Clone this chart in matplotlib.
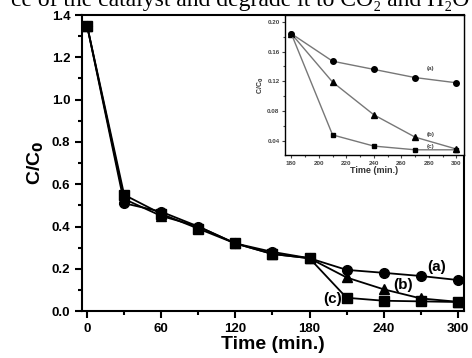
import matplotlib.pyplot as plt
from matplotlib.ticker import MultipleLocator

plt.rcParams["font.family"] = ["Liberation Sans", "DejaVu Sans"]
plt.rcParams["font.weight"] = "bold"

# main plot data
time = [0, 30, 60, 90, 120, 150, 180, 210, 240, 270, 300]
curve_a = [1.35, 0.51, 0.47, 0.40, 0.32, 0.28, 0.25, 0.195, 0.181, 0.166, 0.147]
curve_b = [1.35, 0.53, 0.45, 0.40, 0.32, 0.27, 0.25, 0.159, 0.103, 0.060, 0.044]
curve_c = [1.35, 0.55, 0.46, 0.39, 0.32, 0.27, 0.25, 0.063, 0.049, 0.046, 0.043]

# inset data
inset_time = [180, 210, 240, 270, 300]
inset_a = [0.184, 0.147, 0.136, 0.125, 0.118]
inset_b = [0.184, 0.119, 0.075, 0.045, 0.029]
inset_c = [0.184, 0.048, 0.033, 0.028, 0.028]

fig = plt.figure(figsize=(4.72, 3.58), dpi=100)
ax = fig.add_axes([0.174, 0.131, 0.809, 0.827])

ax.plot(time, curve_a, "-o", color="black", lw=1.3, ms=7)
ax.plot(time, curve_b, "-^", color="black", lw=1.3, ms=7)
ax.plot(time, curve_c, "-s", color="black", lw=1.3, ms=6.5)

ax.set_xlim(-4, 305)
ax.set_ylim(0, 1.4)
ax.xaxis.set_major_locator(MultipleLocator(60))
ax.xaxis.set_minor_locator(MultipleLocator(30))
ax.yaxis.set_major_locator(MultipleLocator(0.2))
ax.yaxis.set_minor_locator(MultipleLocator(0.1))
ax.yaxis.set_major_formatter(plt.FormatStrFormatter("%.1f"))
ax.tick_params(which="both", direction="out", width=1.5, labelsize=9.5)
ax.tick_params(which="major", length=5)
ax.tick_params(which="minor", length=3)
for s in ax.spines.values():
    s.set_linewidth(1.5)
ax.set_xlabel("Time (min.)", fontsize=14, fontweight="bold", labelpad=1)
ax.set_ylabel("C/C$_\\mathbf{0}$", fontsize=14, fontweight="bold", labelpad=4)

ax.text(283, 0.208, "(a)", fontsize=11, fontweight="bold", ha="center", va="center")
ax.text(256, 0.123, "(b)", fontsize=11, fontweight="bold", ha="center", va="center")
ax.text(199, 0.057, "(c)", fontsize=11, fontweight="bold", ha="center", va="center")

# inset
ins = fig.add_axes([0.604, 0.567, 0.379, 0.391])
ins.plot(inset_time, inset_a, "-o", color="#777777", lw=1, ms=4, mfc="black", mec="black")
ins.plot(inset_time, inset_b, "-^", color="#777777", lw=1, ms=4, mfc="black", mec="black")
ins.plot(inset_time, inset_c, "-s", color="#777777", lw=1, ms=3.5, mfc="black", mec="black")
ins.set_xlim(175.5, 305.5)
ins.set_ylim(0.021, 0.209)
ins.xaxis.set_major_locator(MultipleLocator(20))
ins.xaxis.set_minor_locator(MultipleLocator(10))
ins.yaxis.set_major_locator(MultipleLocator(0.04))
ins.yaxis.set_minor_locator(MultipleLocator(0.02))
ins.yaxis.set_major_formatter(plt.FormatStrFormatter("%.2f"))
ins.tick_params(which="both", direction="out", width=0.8, labelsize=4.5, pad=1.5, colors="#444444")
ins.tick_params(which="major", length=2.5)
ins.tick_params(which="minor", length=1.5)
for s in ins.spines.values():
    s.set_linewidth(1.0)
ins.set_xlabel("Time (min.)", fontsize=6.5, fontweight="bold", labelpad=0.5, color="#333333")
ins.set_ylabel("C/C$_\\mathbf{0}$", fontsize=5, fontweight="bold", labelpad=1, color="#333333")
ins.text(281, 0.135, "(a)", fontsize=4.5, ha="center", color="#444444")
ins.text(281, 0.047, "(b)", fontsize=4.5, ha="center", color="#444444")
ins.text(281, 0.031, "(c)", fontsize=4.5, ha="center", color="#444444")

# cropped caption text at the top of the picture
fig.text(0.995, 0.984, "ce of the catalyst and degrade it to CO\u2082 and H\u2082O",
         fontsize=17, fontweight="normal", ha="right", va="baseline",
         family=["Liberation Serif", "DejaVu Serif"])

fig.savefig("out.png", dpi=100)
